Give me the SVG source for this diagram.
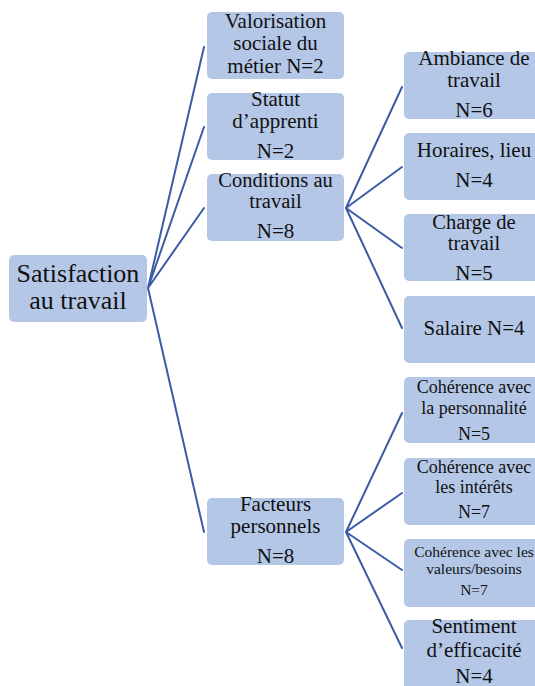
<svg xmlns="http://www.w3.org/2000/svg" width="535" height="686" viewBox="0 0 535 686">
  <style>
    .box { fill: #B4C7E7; }
    .lbl { font-family: "Liberation Serif", serif; fill: #111; text-anchor: middle; }
    .link { stroke: #3A5CA6; stroke-width: 2; fill: none; stroke-linecap: round; }
  </style>
  <rect width="535" height="686" fill="#fff"/>

  <!-- connectors -->
  <g id="connectors">
    <path class="link" d="M148 288 L204 47 M148 288 L204 127 M148 288 L204 208 M148 288 L204 532"/>
    <path class="link" d="M346 208 L402 87 M346 208 L402 167 M346 208 L402 248 M346 208 L402 328"/>
    <path class="link" d="M346 532 L402 413 M346 532 L402 493 M346 532 L402 570 M346 532 L402 648"/>
  </g>

  <!-- root -->
  <g id="n-satisfaction">
    <rect class="box" x="9" y="255" width="138" height="67" rx="5"/>
    <text class="lbl" font-size="26" x="78" y="282">Satisfaction</text>
    <text class="lbl" font-size="26" x="78" y="309">au travail</text>
  </g>

  <!-- first level -->
  <g id="n-valorisation">
    <rect class="box" x="207" y="12" width="137" height="67" rx="5"/>
    <text class="lbl" font-size="21" x="275.5" y="28">Valorisation</text>
    <text class="lbl" font-size="21" x="275.5" y="50">sociale du</text>
    <text class="lbl" font-size="21" x="275.5" y="73">métier N=2</text>
  </g>
  <g id="n-statut">
    <rect class="box" x="207" y="93" width="137" height="67" rx="5"/>
    <text class="lbl" font-size="21" x="275.5" y="106">Statut</text>
    <text class="lbl" font-size="21" x="275.5" y="128">d’apprenti</text>
    <text class="lbl" font-size="21" x="275.5" y="158">N=2</text>
  </g>
  <g id="n-conditions">
    <rect class="box" x="207" y="174" width="137" height="67" rx="5"/>
    <text class="lbl" font-size="20.5" x="275.5" y="187">Conditions au</text>
    <text class="lbl" font-size="20.5" x="275.5" y="208">travail</text>
    <text class="lbl" font-size="21" x="275.5" y="238">N=8</text>
  </g>
  <g id="n-facteurs">
    <rect class="box" x="207" y="498" width="137" height="67" rx="5"/>
    <text class="lbl" font-size="21" x="275.5" y="511">Facteurs</text>
    <text class="lbl" font-size="21" x="275.5" y="533">personnels</text>
    <text class="lbl" font-size="21" x="275.5" y="563">N=8</text>
  </g>

  <!-- second level: working conditions -->
  <g id="n-ambiance">
    <rect class="box" x="404" y="52" width="140" height="67" rx="5"/>
    <text class="lbl" font-size="21" x="474" y="65">Ambiance de</text>
    <text class="lbl" font-size="21" x="474" y="87">travail</text>
    <text class="lbl" font-size="21" x="474" y="117">N=6</text>
  </g>
  <g id="n-horaires">
    <rect class="box" x="404" y="133" width="140" height="67" rx="5"/>
    <text class="lbl" font-size="21" x="474" y="157">Horaires, lieu</text>
    <text class="lbl" font-size="21" x="474" y="187">N=4</text>
  </g>
  <g id="n-charge">
    <rect class="box" x="404" y="214" width="140" height="67" rx="5"/>
    <text class="lbl" font-size="20.5" x="474" y="229">Charge de</text>
    <text class="lbl" font-size="20.5" x="474" y="250">travail</text>
    <text class="lbl" font-size="21" x="474" y="280">N=5</text>
  </g>
  <g id="n-salaire">
    <rect class="box" x="404" y="296" width="140" height="67" rx="5"/>
    <text class="lbl" font-size="21" x="474" y="335">Salaire N=4</text>
  </g>

  <!-- second level: personal factors -->
  <g id="n-personnalite">
    <rect class="box" x="404" y="377" width="140" height="66" rx="5"/>
    <text class="lbl" font-size="18" x="474" y="393">Cohérence avec</text>
    <text class="lbl" font-size="18" x="474" y="414">la personnalité</text>
    <text class="lbl" font-size="18" x="474" y="440">N=5</text>
  </g>
  <g id="n-interets">
    <rect class="box" x="404" y="458" width="140" height="67" rx="5"/>
    <text class="lbl" font-size="18" x="474" y="473">Cohérence avec</text>
    <text class="lbl" font-size="18" x="474" y="493">les intérêts</text>
    <text class="lbl" font-size="18" x="474" y="518">N=7</text>
  </g>
  <g id="n-valeurs">
    <rect class="box" x="404" y="539" width="140" height="68" rx="5"/>
    <text class="lbl" font-size="15.5" x="474" y="557">Cohérence avec les</text>
    <text class="lbl" font-size="15.5" x="474" y="574">valeurs/besoins</text>
    <text class="lbl" font-size="15.5" x="474" y="595">N=7</text>
  </g>
  <g id="n-efficacite">
    <rect class="box" x="404" y="620" width="140" height="70" rx="5"/>
    <text class="lbl" font-size="21" x="474" y="633">Sentiment</text>
    <text class="lbl" font-size="21" x="474" y="657">d’efficacité</text>
    <text class="lbl" font-size="21" x="474" y="683">N=4</text>
  </g>
</svg>
